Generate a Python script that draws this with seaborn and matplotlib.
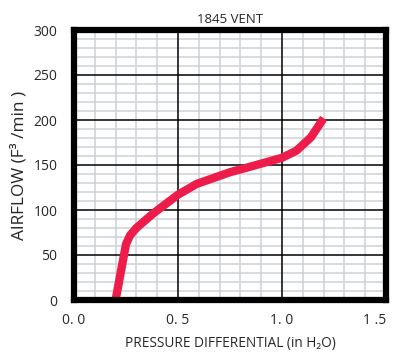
import matplotlib
matplotlib.use("Agg")
import matplotlib.pyplot as plt
import seaborn as sns
import pandas as pd
import numpy as np

pressure = [0.20, 0.25, 0.27, 0.30, 0.38, 0.50, 0.59, 0.75, 0.83, 1.00, 1.07, 1.14, 1.20]
airflow = [0, 62, 72, 80, 96, 117, 129, 142, 147, 158, 166, 181, 202]
x_ticks = [0.0, 0.5, 1.0, 1.5]
x_tick_labels = ["0. 0", "0. 5", "1. 0", "1 .5"]
y_ticks = [0, 50, 100, 150, 200, 250, 300]
y_tick_labels = ["0", "50", "100", "150", "200", "250", "300"]
title = "1845 VENT"
x_label = "PRESSURE DIFFERENTIAL (in H\u2082O)"
y_label = "AIRFLOW (F\u00b3 /min )"

sns.set_style("white")
plt.rcParams["font.family"] = ["Open Sans", "DejaVu Sans"]

df = pd.DataFrame({"pressure": pressure, "airflow": airflow})

fig = plt.figure(figsize=(3.96, 3.54), dpi=100)
ax = fig.add_axes([74 / 396, 54 / 354, 312 / 396, 270 / 354])

# grid
for xv in np.arange(0.1, 1.5, 0.1):
    if abs(xv - 0.5) < 1e-6 or abs(xv - 1.0) < 1e-6:
        continue
    ax.axvline(xv, color="#cdd1d6", lw=1.1, zorder=0)
for yv in range(10, 300, 10):
    if yv % 50 == 0:
        continue
    ax.axhline(yv, color="#cdd1d6", lw=1.1, zorder=0)
for xv in [0.5, 1.0]:
    ax.axvline(xv, color="black", lw=1.1, zorder=1)
for yv in [50, 100, 150, 200, 250]:
    ax.axhline(yv, color="black", lw=1.1, zorder=1)

sns.lineplot(data=df, x="pressure", y="airflow", ax=ax, color="#ee1c4a",
             lw=6, solid_capstyle="butt", solid_joinstyle="round", zorder=3, sort=False)

ax.set_xlim(0, 1.5)
ax.set_ylim(0, 300)
ax.set_xticks(x_ticks)
ax.set_xticklabels(x_tick_labels, fontsize=10)
ax.set_yticks(y_ticks)
ax.set_yticklabels(y_tick_labels, fontsize=10)
ax.tick_params(axis="y", length=0, pad=12)
ax.tick_params(axis="x", length=0, pad=9)
ax.get_xticklabels()[-1].set_horizontalalignment("right")
ax.get_xticklabels()[-1].set_x(1.5)
for s in ax.spines.values():
    s.set_visible(True)
    s.set_color("black")
    s.set_linewidth(4.5)
    s.set_zorder(4)

ax.set_title(title, fontsize=9.5, pad=5)
ax.set_xlabel(x_label, fontsize=9.8, labelpad=6)
ax.set_ylabel(y_label, fontsize=12.4, labelpad=4)

fig.savefig("out.png", dpi=100)
